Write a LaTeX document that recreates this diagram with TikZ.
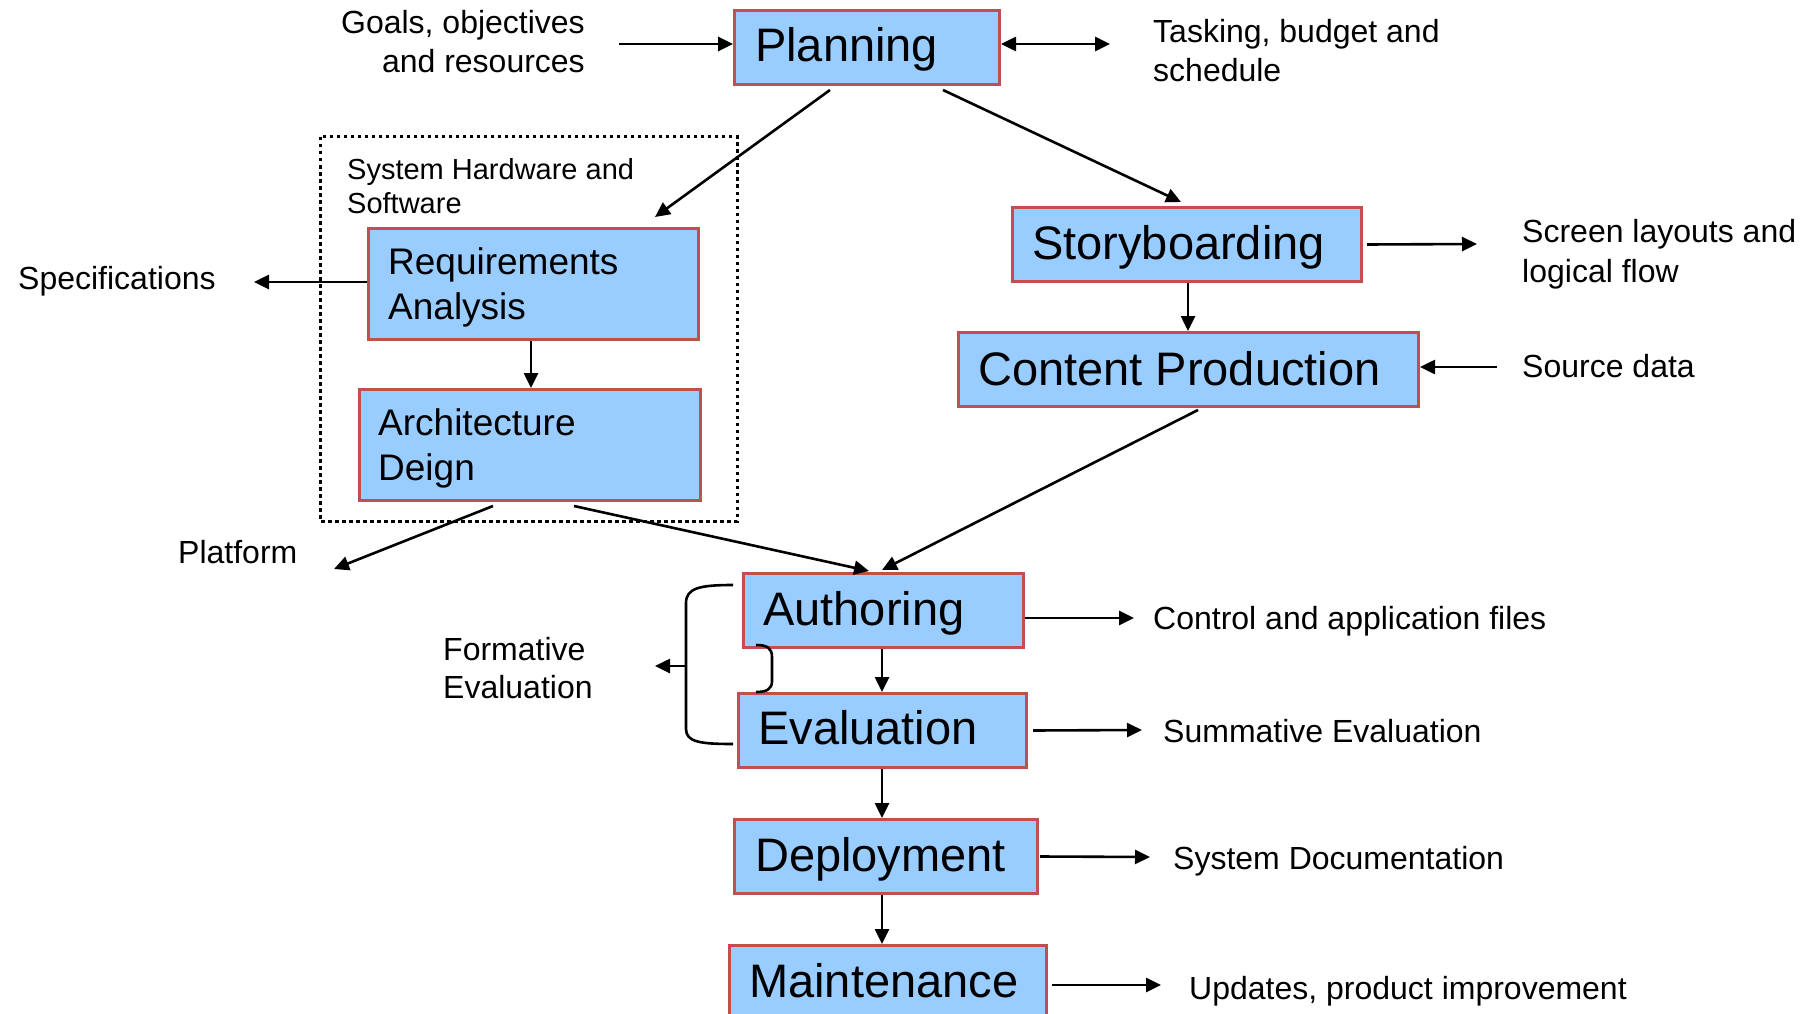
\documentclass[tikz,border=0pt]{standalone}
\usepackage{fontspec}
\setmainfont{Liberation Sans}
\usetikzlibrary{arrows.meta}
\definecolor{boxfill}{HTML}{99CCFF}
\definecolor{boxline}{HTML}{C0504D}
\begin{document}
\begin{tikzpicture}[x=1pt,y=-1pt,
  box/.style={draw=boxline, fill=boxfill, line width=3pt, rectangle, anchor=north west, inner sep=0pt},
  big/.style={font=\fontsize{47}{52}\selectfont, anchor=base west, inner sep=0pt},
  mid/.style={font=\fontsize{37}{45}\selectfont, anchor=base west, inner sep=0pt},
  lbl/.style={font=\fontsize{32}{39}\selectfont, anchor=base west, inner sep=0pt},
  lblr/.style={font=\fontsize{32}{39}\selectfont, anchor=base east, inner sep=0pt},
  sml/.style={font=\fontsize{29}{34}\selectfont, anchor=base west, inner sep=0pt},
  arr/.style={-{Triangle[length=15pt,width=14pt]}, line width=2.6pt},
  darr/.style={{Triangle[length=15pt,width=14pt]}-{Triangle[length=15pt,width=14pt]}, line width=2.6pt},
  brace/.style={line width=2.6pt},
  group/.style={draw, line width=3pt, dash pattern=on 3.5pt off 3.5pt}
]
\useasboundingbox (0,0) rectangle (1807,1014);
\clip (0,0) rectangle (1807,1014);

% dotted group box
\draw[group] (320,137) rectangle (737,521);
\node[sml] (shs1) at (347,179) {System Hardware and};
\node[sml] (shs2) at (347,213) {Software};

% boxes
\node[box, minimum width=265pt, minimum height=74pt] (plan) at (733,9) {};
\node[big] (planT) at (755,62) {Planning};

\node[box, minimum width=349pt, minimum height=74pt] (story) at (1011,206) {};
\node[big] (storyT) at (1032,259) {Storyboarding};

\node[box, minimum width=460pt, minimum height=74pt] (content) at (957,331) {};
\node[big] (contentT) at (978,385) {Content Production};

\node[box, minimum width=330pt, minimum height=111pt] (req) at (367,227) {};
\node[mid] (reqT1) at (388,274) {Requirements};
\node[mid] (reqT2) at (388,319) {Analysis};

\node[box, minimum width=341pt, minimum height=111pt] (arch) at (358,388) {};
\node[mid] (archT1) at (378,435) {Architecture};
\node[mid] (archT2) at (378,480) {Deign};

\node[box, minimum width=280pt, minimum height=74pt] (auth) at (742,572) {};
\node[big] (authT) at (763,625) {Authoring};

\node[box, minimum width=288pt, minimum height=74pt] (eval) at (737,692) {};
\node[big] (evalT) at (758,744) {Evaluation};

\node[box, minimum width=303pt, minimum height=74pt] (deploy) at (733,818) {};
\node[big] (deployT) at (755,871) {Deployment};

\node[box, minimum width=317pt, minimum height=90pt] (maint) at (728,944) {};
\node[big] (maintT) at (749,997) {Maintenance};

% side labels
\node[lblr] (goals1) at (585,34) {Goals, objectives};
\node[lblr] (goals2) at (585,73) {and resources};
\node[lbl] (task1) at (1153,43) {Tasking, budget and};
\node[lbl] (task2) at (1153,82) {schedule};
\node[lbl] (scr1) at (1522,242) {Screen layouts and};
\node[lbl] (scr2) at (1522,282) {logical flow};
\node[lbl] (src) at (1522,377) {Source data};
\node[lbl] (spec) at (18,289) {Specifications};
\node[lbl] (plat) at (178,563) {Platform};
\node[lbl] (form1) at (443,660) {Formative};
\node[lbl] (form2) at (443,698) {Evaluation};
\node[lbl] (ctrl) at (1153,629) {Control and application files};
\node[lbl] (summ) at (1163,742) {Summative Evaluation};
\node[lbl] (sysdoc) at (1173,869) {System Documentation};
\node[lbl] (upd) at (1189,999) {Updates, product improvement};

% free-end coordinates
\coordinate (goalsE) at (619,44);
\coordinate (taskE) at (1110,44);
\coordinate (planBL) at (830,90);
\coordinate (reqTop) at (655,217);
\coordinate (planBR) at (943,90);
\coordinate (storyTop) at (1181,202);
\coordinate (scrE) at (1477,244);
\coordinate (srcE) at (1497,367);
\coordinate (contentB) at (1198,410);
\coordinate (authTopR) at (882,570);
\coordinate (authTopL) at (869,571);
\coordinate (specE) at (254,282);
\coordinate (archBL) at (493,506);
\coordinate (archBR) at (574,506);
\coordinate (platE) at (334,569);
\coordinate (ctrlE) at (1134,618);
\coordinate (summE) at (1142,730);
\coordinate (sysdocE) at (1150,857);
\coordinate (updE) at (1161,985);
\coordinate (formE) at (655,666);
\coordinate (braceMid) at (686,666);
\coordinate (sbx) at (1188,0);
\coordinate (rax) at (531,0);
\coordinate (asx) at (882,0);

% connectors
\draw[arr] (goalsE) -- (goalsE -| plan.west);
\draw[darr] (plan.east |- taskE) -- (taskE);
\draw[arr] (planBL) -- (reqTop);
\draw[arr] (planBR) -- (storyTop);
\draw[arr] ([xshift=4pt]story.east) -- (scrE);
\draw[arr] (sbx |- story.south) -- (sbx |- content.north);
\draw[arr] (srcE) -- (srcE -| content.east);
\draw[arr] (contentB) -- (authTopR);
\draw[arr] (req.west |- specE) -- (specE);
\draw[arr] (rax |- req.south) -- (rax |- arch.north);
\draw[arr] (archBL) -- (platE);
\draw[arr] (archBR) -- (authTopL);
\draw[arr] (auth.east |- ctrlE) -- (ctrlE);
\draw[arr] (asx |- auth.south) -- (asx |- eval.north);
\draw[arr] ([xshift=5pt]eval.east) -- (summE);
\draw[arr] (asx |- eval.south) -- (asx |- deploy.north);
\draw[arr] ([xshift=1pt]deploy.east) -- (sysdocE);
\draw[arr] (asx |- deploy.south) -- (asx |- maint.north);
\draw[arr] ([xshift=4pt]maint.east |- updE) -- (updE);

% braces
\draw[brace] (733,585) .. controls (700,585) and (686,588) .. (686,603) -- (686,729) .. controls (686,742) and (700,744) .. (733,744);
\draw[arr] (braceMid) -- (formE);
\draw[brace] (756,645) .. controls (767,645) and (772,648) .. (772,657) -- (772,681) .. controls (772,689) and (767,692) .. (756,692);
\end{tikzpicture}
\end{document}
